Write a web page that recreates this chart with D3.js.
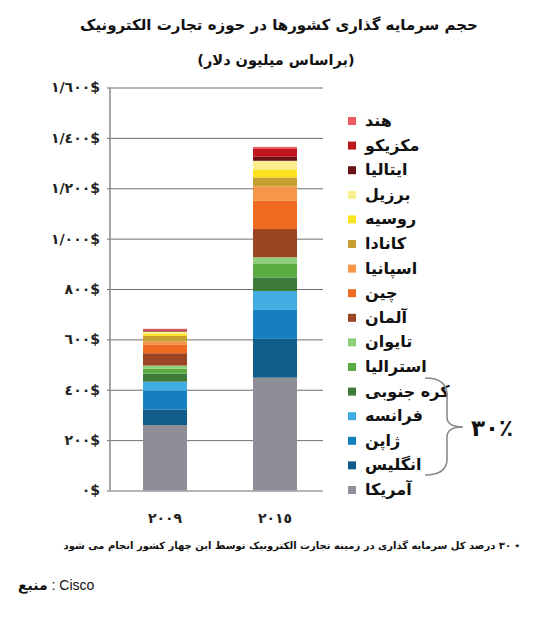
<!DOCTYPE html>
<html>
<head>
<meta charset="utf-8">
<script src="https://cdn.jsdelivr.net/npm/d3@7"></script>
<style>
  html, body { margin: 0; padding: 0; background: #fff; }
  svg { display: block; }
</style>
</head>
<body>
<svg id="chart" width="550" height="640"></svg>
<script>
// ---- data ----
const years = ["٢٠٠٩", "٢٠١٥"];
const countries = ["آمریکا", "انگلیس", "ژاپن", "فرانسه", "کره جنوبی", "استرالیا", "تایوان", "آلمان", "چین", "اسپانیا", "کانادا", "روسیه", "برزیل", "ایتالیا", "مکزیکو", "هند"];
const values2009 = [260, 62, 74, 36, 32, 20, 12, 49, 33, 13, 23, 8, 9, 4, 5, 2];
const values2015 = [448, 154, 115, 75, 54, 56, 24, 112, 112, 58, 35, 32, 34, 16, 31, 8];
const colors = ["#8f8e96", "#115d8a", "#167fbf", "#41ade0", "#3e7b38", "#5bab43", "#8fd07a", "#9b4523", "#ee6b21", "#f6964a", "#c6a030", "#fbe31f", "#fbee8c", "#6b1318", "#c0171f", "#ea5b60"];
const tickValues = [0, 200, 400, 600, 800, 1000, 1200, 1400, 1600];
const tickLabels = ["٠$", "٢٠٠$", "٤٠٠$", "٦٠٠$", "٨٠٠$", "١/٠٠٠$", "١/٢٠٠$", "١/٤٠٠$", "١/٦٠٠$"];
const title1 = "حجم سرمایه گذاری کشورها در حوزه تجارت الکترونیک";
const title2 = "(براساس میلیون دلار)";
const bracketLabel = "٣٠٪";
const footnote = "٭ ٣٠ درصد کل سرمایه گذاری در زمینه تجارت الکترونیک توسط این چهار کشور انجام می شود";

// ---- build table ----
const table = years.map((yr, i) => {
  const row = { year: yr };
  const vals = i === 0 ? values2009 : values2015;
  countries.forEach((c, j) => row[c] = vals[j]);
  return row;
});

const svg = d3.select("#chart");
const font = "'DejaVu Sans', sans-serif";

const x = d3.scaleBand().domain(years).range([110, 330]).paddingInner(0.6).paddingOuter(0.3);
const y = d3.scaleLinear().domain([0, 1600]).range([490.5, 87.5]);
const color = d3.scaleOrdinal().domain(countries).range(colors);

// title
svg.append("text").attr("x", 279).attr("y", 30).attr("text-anchor", "middle")
  .attr("font-family", font).attr("font-weight", "bold").attr("font-size", 15).attr("fill", "#111")
  .text(title1);
svg.append("text").attr("x", 276).attr("y", 65).attr("text-anchor", "middle")
  .attr("font-family", font).attr("font-weight", "bold").attr("font-size", 14.5).attr("fill", "#111")
  .text(title2);

// gridlines + y axis
const yAxis = d3.axisLeft(y).tickValues(tickValues)
  .tickFormat((d, i) => tickLabels[i]).tickSize(-213).tickPadding(10);
const gy = svg.append("g").attr("transform", "translate(110,0)").call(yAxis);
gy.select(".domain").remove();
gy.selectAll(".tick line").attr("x1", -3).attr("stroke", "#6f6f6f").attr("stroke-width", 1);
gy.selectAll(".tick text").attr("font-family", font).attr("font-weight", "bold")
  .attr("font-size", 14).attr("letter-spacing", 1.5).attr("fill", "#222").attr("direction", "ltr");
svg.append("line").attr("x1", 110).attr("x2", 110).attr("y1", y(1600)).attr("y2", y(0))
  .attr("stroke", "#8a8a8a").attr("stroke-width", 1.5);

// bars
const stack = d3.stack().keys(countries);
const series = stack(table);
svg.append("g").selectAll("g").data(series).join("g")
  .attr("fill", d => color(d.key))
  .selectAll("rect").data(d => d).join("rect")
  .attr("x", d => x(d.data.year))
  .attr("width", x.bandwidth())
  .attr("y", d => y(d[1]))
  .attr("height", d => y(d[0]) - y(d[1]));

// x labels
svg.append("g").selectAll("text").data(years).join("text")
  .attr("x", d => x(d) + x.bandwidth() / 2).attr("y", 523)
  .attr("text-anchor", "middle").attr("font-family", font).attr("font-weight", "bold")
  .attr("font-size", 14).attr("letter-spacing", 1.5).attr("fill", "#222").text(d => d);

// legend
const legendOrder = countries.slice().reverse();
const ly = d3.scalePoint().domain(legendOrder).range([121, 490]);
const lg = svg.append("g").selectAll("g").data(legendOrder).join("g")
  .attr("transform", d => `translate(348,${ly(d)})`);
lg.append("rect").attr("x", 0).attr("y", -4).attr("width", 8).attr("height", 8)
  .attr("fill", d => color(d));
lg.append("text").attr("x", 17).attr("y", 5).attr("font-family", font).attr("font-weight", "bold")
  .attr("font-size", 16).attr("fill", "#111").text(d => d);

// bracket
svg.append("path")
  .attr("d", "M425,378 Q447,378 447,395 L447,417 Q447,427 463,427 Q447,427 447,437 L447,459 Q447,475 425,475")
  .attr("fill", "none").attr("stroke", "#8a8a8a").attr("stroke-width", 1.6);
svg.append("text").attr("x", 492).attr("y", 436).attr("text-anchor", "middle")
  .attr("font-family", font).attr("font-weight", "bold").attr("font-size", 23).attr("fill", "#111")
  .text(bracketLabel);

// footnote
svg.append("text").attr("x", 520).attr("y", 549).attr("direction", "rtl").attr("text-anchor", "start")
  .attr("font-family", font).attr("font-weight", "bold").attr("font-size", 10).attr("fill", "#111")
  .text(footnote);

// source
const src = svg.append("text").attr("x", 18).attr("y", 590).attr("font-size", 14).attr("fill", "#111");
src.append("tspan").attr("font-family", font).attr("font-weight", "bold").text("منبع");
src.append("tspan").attr("font-family", "'Liberation Sans', Arial, sans-serif").text(" : Cisco");
</script>
</body>
</html>
